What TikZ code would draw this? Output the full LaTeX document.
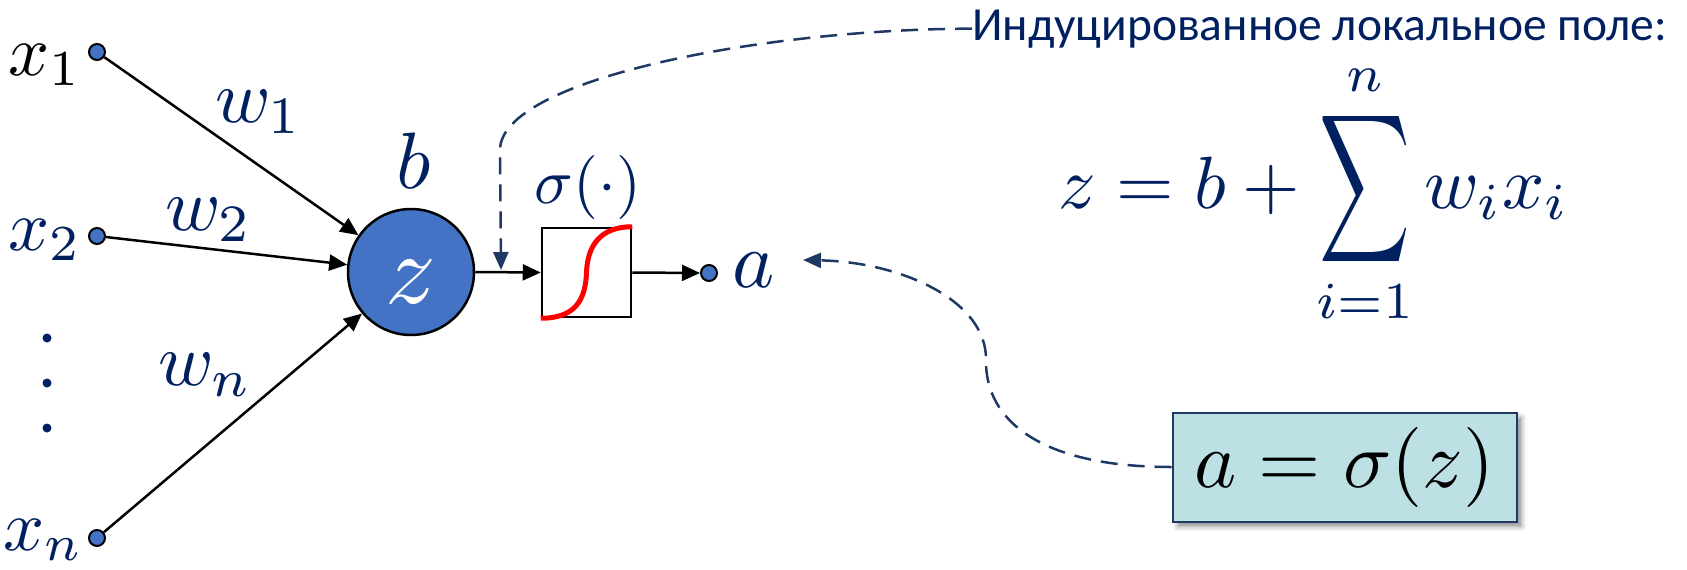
\documentclass[tikz,border=0pt]{standalone}
\usepackage{fontspec}
\usepackage{graphicx}
\newfontfamily\rufont{Carlito}
\usetikzlibrary{arrows.meta,shadows.blur}
\definecolor{navy}{RGB}{0,32,96}
\definecolor{dashnavy}{RGB}{31,56,100}
\definecolor{nodeblue}{RGB}{68,114,196}
\definecolor{boxfill}{RGB}{188,224,228}
\newcommand{\setfs}[1]{\fontsize{#1}{#1}\selectfont}
\newcommand{\mscale}[2]{\scalebox{#1}{#2}}
\newcommand{\bigsum}{\mathop{\vcenter{\hbox{\scalebox{0.85}[1.4]{$\displaystyle\sum$}}}}\limits}
\begin{document}
\begin{tikzpicture}[x=1pt,y=-1pt,
  inpt/.style={circle, draw=black, line width=2pt, fill=nodeblue, minimum size=16pt, inner sep=0pt},
  neuron/.style={circle, draw=black, line width=2.5pt, fill=nodeblue, minimum size=126pt, inner sep=0pt},
  actbox/.style={rectangle, draw=black, line width=2.5pt, minimum size=89pt, inner sep=0pt, fill=white},
  conn/.style={-{Triangle[length=18pt,width=16pt]}, line width=2.5pt, draw=black},
  dashconn/.style={-{Triangle[length=18pt,width=15pt]}, line width=2.5pt, draw=dashnavy, dash pattern=on 17pt off 10pt},
  mlab/.style={text=navy, inner sep=0pt},
  resbox/.style={draw=dashnavy, line width=2pt, fill=boxfill, minimum width=344pt, minimum height=109pt, inner sep=0pt,
    blur shadow={shadow xshift=5pt, shadow yshift=-5pt, shadow blur radius=5pt, shadow opacity=45}}
]
\useasboundingbox (0,0) rectangle (1687,570);

% nodes
\node[inpt] (x1) at (97,52) {};
\node[inpt] (x2) at (97,236) {};
\node[inpt] (xn) at (97,538) {};
\node[neuron] (z) at (411,272) {};
\node[actbox] (act) at (586.5,272.5) {};
\node[inpt] (a) at (709,273) {};

% connectors
\draw[conn] (x1) -- (z);
\draw[conn] (x2) -- (z);
\draw[conn] (xn) -- (z);
\draw[conn] (z.east) -- (act.west);
\draw[conn] (act.east) -- (a.west);

% sigmoid
\draw[red, line width=5pt] (act.south west) .. controls +(34,0) and +(-1,28) .. (act.center)
   .. controls +(1,-27) and +(-32,0) .. (act.north east);

% labels
\node[mlab, text=black, anchor=base east] (lx1) at (82,75) {\mscale{7.2}{$x_1$}};
\node[mlab, anchor=base east] (lx2) at (82,250) {\mscale{7.2}{$x_2$}};
\node[mlab, anchor=base east] (lxn) at (84,550) {\mscale{7.2}{$x_n$}};
\node[mlab, anchor=base west] (lw1) at (215,122) {\mscale{7.5}{$w_1$}};
\node[mlab, anchor=base west] (lw2) at (165,230) {\mscale{7.5}{$w_2$}};
\node[mlab, anchor=base west] (lwn) at (158,385) {\mscale{7.5}{$w_n$}};
\node[mlab, anchor=base] (lb) at (414,188) {\mscale{8}{$b$}};
\node[text=white, inner sep=0pt] (lz) at (411,282) {\mscale{10}{$z$}};
\node[mlab, anchor=base] (lsig) at (588,203) {\mscale{6.4}{$\sigma(\cdot)$}};
\node[mlab, anchor=base west] (la) at (732,287) {\mscale{8}{$a$}};

% vertical dots
\fill[navy] (47,338) circle (4.5);
\fill[navy] (47,383) circle (4.5);
\fill[navy] (47,428) circle (4.5);

% induced local field
\node[anchor=base west, inner sep=0pt, text=navy] (ind) at (972,40) {\rufont\setfs{47.5}Индуцированное локальное поле:};
\node[mlab, anchor=base west] (formula) at (1058,208) {\mscale{7.4}{$\displaystyle z = b + \bigsum_{i=1}^{n} w_i x_i$}};

% result box
\node[resbox] (res) at (1344.5,467) {\mscale{8}{$a = \sigma(z)$}};

% dashed pointers
\coordinate (tipA) at (501,270);
\coordinate (tipB) at (803,260);
\draw[dashconn] (ind.west) .. controls (760,29) and (500,80) .. (500,150) -- (tipA);
\draw[dashconn] (res.west) .. controls (1040,467) and (985,420) .. (986,360)
   .. controls (987,300) and (900,262) .. (tipB);
\end{tikzpicture}
\end{document}
